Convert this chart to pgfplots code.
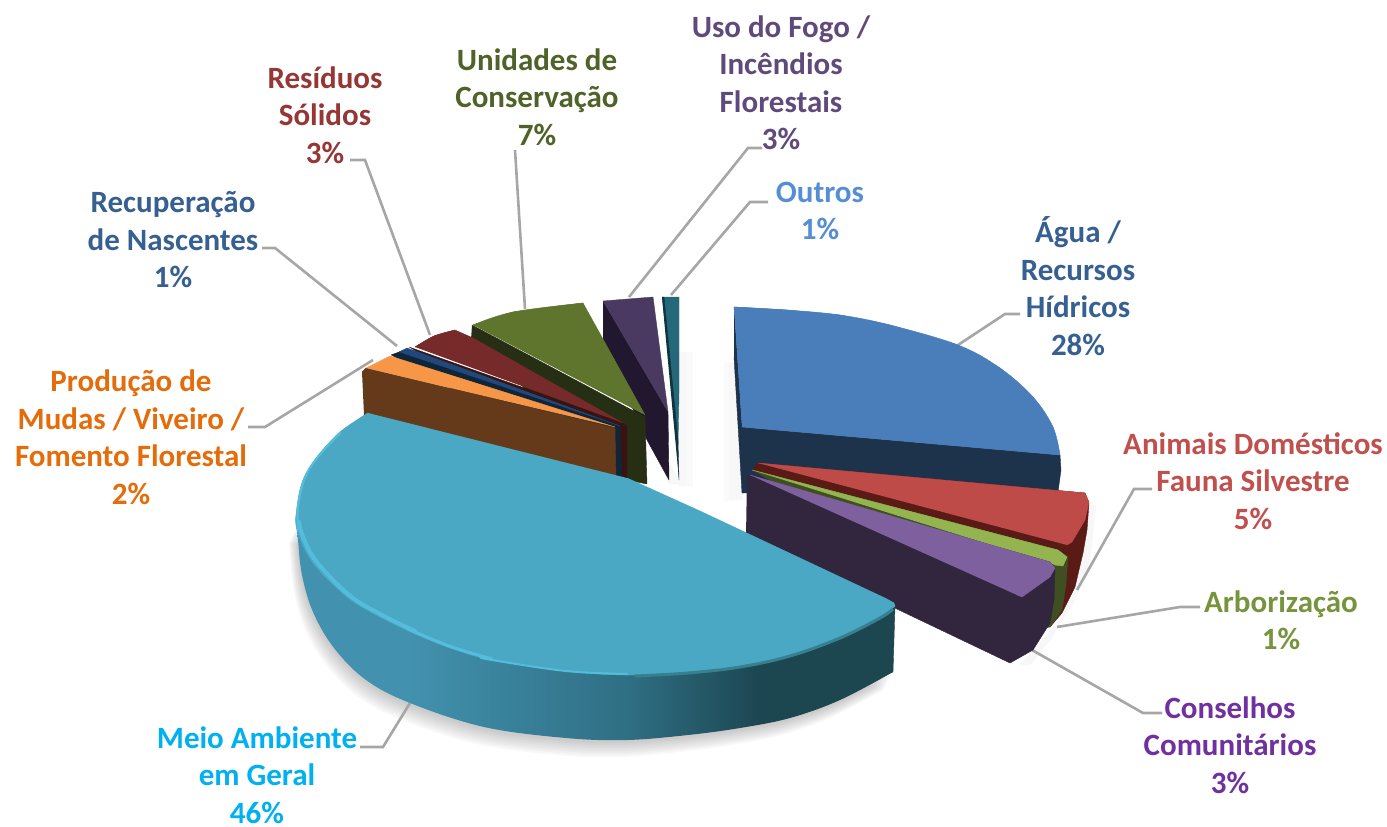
\documentclass[border=0pt]{standalone}
\usepackage{fontspec}
\setmainfont{Carlito}
\usepackage{pgfplots}
\usepackage{pgfplotstable}
\pgfplotsset{compat=1.18}
\definecolor{lead}{HTML}{A6A6A6}
\definecolor{cyanL}{HTML}{4292AF}
\definecolor{cyanM}{HTML}{2F6E83}
\definecolor{cyanD}{HTML}{1C4650}
\definecolor{cyanT}{HTML}{4AA8C4}
\definecolor{cyanR}{HTML}{55BDDC}
\definecolor{cyanB}{HTML}{37808F}
\definecolor{blueT}{HTML}{4A7EBB}
\definecolor{blueD}{HTML}{1D324B}
\definecolor{redT}{HTML}{BE4B48}
\definecolor{redD}{HTML}{5A1A16}
\definecolor{grnT}{HTML}{93B44F}
\definecolor{grnD}{HTML}{3F4F22}
\definecolor{purT}{HTML}{7E609F}
\definecolor{purD}{HTML}{32263F}
\definecolor{oraT}{HTML}{F79646}
\definecolor{oraD}{HTML}{653A1B}
\definecolor{navT}{HTML}{1F497D}
\definecolor{navD}{HTML}{102538}
\definecolor{marT}{HTML}{772A2A}
\definecolor{marD}{HTML}{3A1212}
\definecolor{oliT}{HTML}{5F752D}
\definecolor{oliD}{HTML}{262F14}
\definecolor{vioT}{HTML}{4A3960}
\definecolor{vioD}{HTML}{211830}
\definecolor{teaT}{HTML}{25687A}
\definecolor{teaD}{HTML}{0F3440}
\definecolor{tAgua}{HTML}{376092}
\definecolor{tAnim}{HTML}{C0504D}
\definecolor{tArbo}{HTML}{77933C}
\definecolor{tCons}{HTML}{7030A0}
\definecolor{tMeio}{HTML}{00B0F0}
\definecolor{tProd}{HTML}{E46C0A}
\definecolor{tResi}{HTML}{953735}
\definecolor{tUnid}{HTML}{4F6228}
\definecolor{tUso}{HTML}{604A7B}
\definecolor{tOutr}{HTML}{558ED5}
\pgfdeclarehorizontalshading{cyanside}{100bp}{color(0bp)=(cyanL); color(25bp)=(cyanL); color(34bp)=(cyanL); color(53bp)=(cyanM); color(64bp)=(cyanD); color(100bp)=(cyanD)}
\pgfplotstableread{
x y
297 525
298 540
302 575
313 612
334 648
366 680
410 703
484 727
566 738
627 740
688 735
740 728
790 718
840 700
893 672
}\cyanbottom
\newcommand\poly[2]{\addplot[fill=#1,draw=#1,line width=.4pt,line join=round] coordinates {#2};}
\newcommand\curve[2]{\addplot[fill=#1,draw=#1,line width=.4pt,smooth,tension=.6] coordinates {#2};}
\newcommand\leader[1]{\addplot[draw=lead,line width=2.6pt,line join=miter] coordinates {#1};}
\newcommand\shadow[2]{\addplot[fill=black,fill opacity=.028,draw=none,smooth,tension=.6,xshift=#1pt,yshift=-#2pt] table {\cyanbottom};}
\newcommand\lab[4]{\node[text=#1,align=center,font=\fontsize{31}{37.5}\selectfont\bfseries,inner sep=0pt] at (axis cs:#2,#3) {#4};}
\begin{document}
\begin{tikzpicture}
\begin{axis}[width=1387pt,height=827pt,scale only axis,hide axis,clip=false,
  xmin=0,xmax=1387,ymin=0,ymax=827,y dir=reverse,no markers]
\addplot[draw=none] coordinates {(0,0)(1387,827)};
% soft shadows
\shadow{-1}{3}\shadow{-2}{5}\shadow{-3}{7}\shadow{-4}{9}\shadow{-5}{11}\shadow{-6}{13}\shadow{-7}{15}\shadow{-8}{17}
\poly{black!2}{(724,362)(742,362)(742,500)(724,500)}
\poly{black!3}{(729,362)(742,362)(742,498)(729,498)}
\poly{black!2}{(679,352)(692,352)(692,486)(679,486)}
\poly{black!3}{(679,352)(686,352)(686,484)(679,484)}
\poly{black!3}{(604,345)(669,484)(680,484)(660,440)}
\poly{black!3}{(1090,505)(1096,505)(1090,560)(1075,600)(1050,640)(1030,665)(1020,665)(1060,620)(1080,570)}
% leaders
\leader{(958,345)(1005,314)(1020,314)}
\leader{(1077,590)(1134,489)(1152,489)}
\leader{(1057,627)(1180,607)(1200,607)}
\leader{(1032,650)(1143,713)(1162,713)}
\leader{(410,703)(383,747)(360,747)}
\leader{(373,360)(265,427)(248,427)}
\leader{(397,346)(275,248)(262,248)}
\leader{(430,335)(365,160)(350,160)}
\leader{(525,309)(515,150)}
\leader{(629,297)(748,148)(762,148)}
\leader{(671,295)(750,202)(768,202)}
% Outros
\poly{teaT}{(662,297)(679,297)(679,393)(678,445)}
\poly{teaD}{(662,297)(664,297)(678,440)(679,480)}
% Uso do Fogo
\poly{vioD}{(603,301)(668,412)(669,480)(647,440)(603,343)}
\poly{vioT}{(603,301)(653,297)(668,412)}
% Unidades de Conservacao
\poly{oliD}{(472,325)(645,417)(647,484)(627,480)(471,340)}
\curve{oliT}{(473,325)(513,312)(583,303)}
\poly{oliT}{(473,325)(513,312)(583,303)(645,415)}
% Residuos
\poly{marD}{(409,347)(623,423)(627,426)(627,480)(618,480)}
\curve{marT}{(415,347)(434,336)(455,330)}
\poly{marT}{(415,347)(434,336)(455,330)(473,338)(623,423)}
% Recuperacao
\poly{navD}{(391,355)(407,349)(620,426)(622,480)(614,480)}
\poly{navT}{(399,352)(407,348)(620,426)}
% Producao
\poly{oraD}{(362,372)(366,368)(615,428)(616,480)(364,415)}
\poly{oraT}{(366,368)(390,356)(615,427)}
% Agua
\poly{blueD}{(734,307)(742,427)(1060,455)(1061,470)(1058,492)(742,493)(734,357)}
\curve{blueT}{(734,307)(787,310)(840,315)(890,325)(958,345)(1000,368)(1033,397)(1053,427)(1060,455)}
\poly{blueT}{(734,307)(787,310)(840,315)(890,325)(958,345)(1000,368)(1033,397)(1053,427)(1060,455)(742,427)}
% Animais
\poly{redD}{(758,463)(1085,493)(1089,503)(1087,530)(1083,553)(1075,587)(1062,613)(1050,627)(752,470)}
\poly{redT}{(758,463)(1085,493)(1089,502)(1085,520)(1072,542)(1067,545)}
% Arborizacao
\poly{grnD}{(752,470)(1058,550)(1068,557)(1066,585)(1062,610)(1050,627)(1030,630)}
\poly{grnT}{(752,470)(1058,550)(1067,557)(1063,566)(1055,565)}
% Conselhos
\poly{purD}{(747,475)(1050,562)(1055,568)(1054,600)(1050,623)(1033,650)(1010,663)(746,537)}
\poly{purT}{(750,475)(1050,562)(1055,568)(1050,577)(1022,597)(1017,595)}
% Meio Ambiente: side
\addplot[shading=cyanside,draw=none,smooth,tension=.6] table {\cyanbottom};
\poly{cyanD}{(895,606)(893,672)(800,680)(770,640)}
% top
\curve{cyanT}{(368,413)(340,432)(317,457)(303,480)(297,507)(297,530)(313,563)(347,597)(380,617)(413,633)(450,648)(492,660)(566,671)(627,675)(688,672)(740,666)(790,655)(840,637)(880,617)(895,606)}
\poly{cyanT}{(368,413)(340,432)(317,457)(303,480)(297,507)(297,530)(313,563)(347,597)(380,617)(413,633)(450,648)(492,660)(566,671)(627,675)(688,672)(740,666)(790,655)(840,637)(880,617)(895,606)(894,603)(887,599)(700,511)(627,478)}
\addplot[draw=cyanR,line width=2.2pt,line cap=round,smooth,tension=.6] coordinates {(340,433)(317,458)(304,480)(298,507)(298,530)};
\addplot[draw=cyanR,line width=4pt,line cap=round,smooth,tension=.6] coordinates {(299,522)(303,537)(316,561)(349,595)(382,615)(415,631)};
\addplot[draw=cyanR,line width=3pt,line cap=round,smooth,tension=.6] coordinates {(400,624)(415,632)(452,647)(492,659)};
\addplot[draw=cyanR,line width=2pt,line cap=round,smooth,tension=.6] coordinates {(480,657)(492,660)(566,671)(627,674)};
\addplot[draw=cyanB,line width=3pt,smooth,tension=.6] coordinates {(635,676)(688,673)(740,667)(790,656)(840,638)(880,618)(893,609)};
% labels
\lab{tUso}{781}{83}{Uso do Fogo /\\Incêndios\\Florestais\\3\%}
\lab{tOutr}{820}{211}{Outros\\1\%}
\lab{tAgua}{1078}{286}{Água /\\Recursos\\Hídricos\\28\%}
\lab{tAnim}{1253}{481}{Animais Domésticos\\Fauna Silvestre\\5\%}
\lab{tArbo}{1281}{620}{Arborização\\1\%}
\lab{tCons}{1230}{745}{Conselhos\\Comunitários\\3\%}
\lab{tMeio}{257}{775}{Meio Ambiente\\em Geral\\46\%}
\lab{tProd}{131}{437}{Produção de\\Mudas / Viveiro /\\Fomento Florestal\\2\%}
\lab{tAgua}{173}{240}{Recuperação\\de Nascentes\\1\%}
\lab{tResi}{325}{115}{Resíduos\\Sólidos\\3\%}
\lab{tUnid}{537}{97}{Unidades de\\Conservação\\7\%}
\end{axis}
\end{tikzpicture}
\end{document}
